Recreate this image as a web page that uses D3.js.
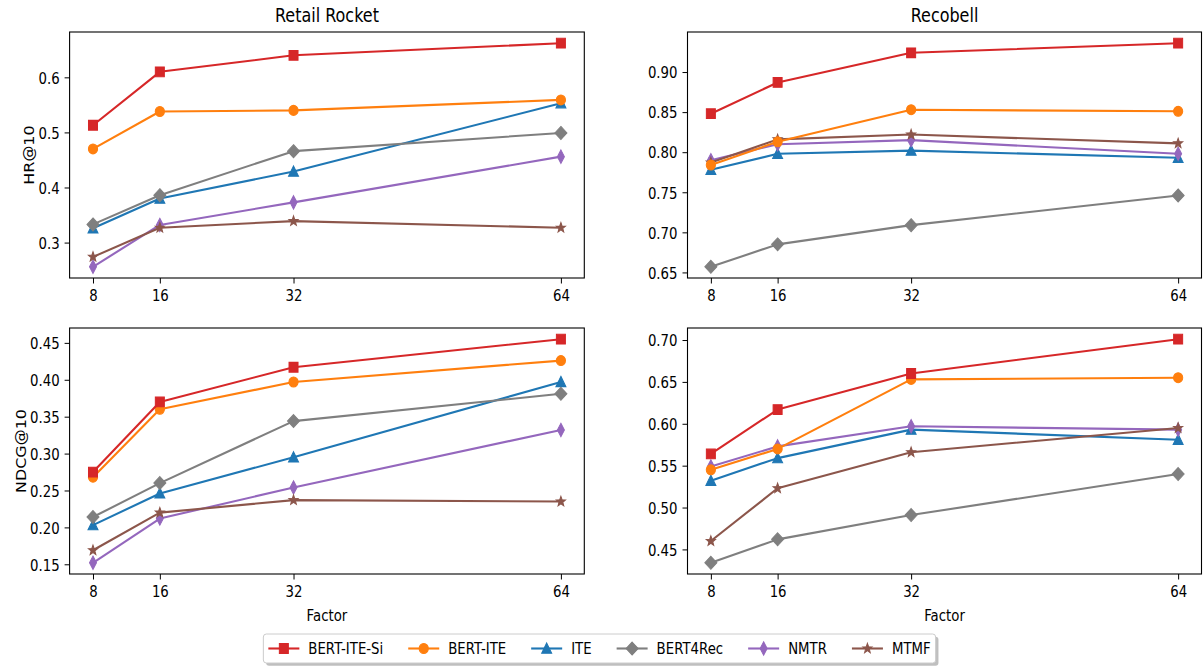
<!DOCTYPE html>
<html>
<head>
<meta charset="utf-8">
<script src="https://cdn.jsdelivr.net/npm/d3@7"></script>
<style>
  body { margin: 0; background: #fff; }
  svg { display: block; }
  text { font-family: "DejaVu Sans", sans-serif; fill: #000; }
</style>
</head>
<body>
<svg id="chart" width="1203" height="669"></svg>
<script>
// ---- data ----
const factors = [8, 16, 32, 64];
const methods = ["BERT-ITE-Si", "BERT-ITE", "ITE", "BERT4Rec", "NMTR", "MTMF"];

// one row per method, in the order of `methods`
const hrRetailRocket = [
  [0.513, 0.610, 0.640, 0.662],
  [0.470, 0.538, 0.540, 0.559],
  [0.326, 0.380, 0.429, 0.553],
  [0.333, 0.386, 0.466, 0.499],
  [0.256, 0.332, 0.373, 0.456],
  [0.274, 0.327, 0.339, 0.327]
];
const hrRecobell = [
  [0.848, 0.887, 0.924, 0.936],
  [0.784, 0.813, 0.853, 0.851],
  [0.778, 0.798, 0.802, 0.793],
  [0.657, 0.685, 0.709, 0.746],
  [0.790, 0.810, 0.815, 0.798],
  [0.787, 0.816, 0.822, 0.811]
];
const ndcgRetailRocket = [
  [0.275, 0.370, 0.417, 0.455],
  [0.268, 0.360, 0.397, 0.426],
  [0.203, 0.246, 0.295, 0.397],
  [0.214, 0.260, 0.344, 0.381],
  [0.152, 0.212, 0.254, 0.332],
  [0.169, 0.220, 0.237, 0.235]
];
const ndcgRecobell = [
  [0.564, 0.617, 0.660, 0.701],
  [0.545, 0.570, 0.653, 0.655],
  [0.532, 0.559, 0.593, 0.581],
  [0.434, 0.462, 0.491, 0.540],
  [0.549, 0.573, 0.597, 0.593],
  [0.460, 0.523, 0.566, 0.595]
];

// tick labels
const xTicks = [8, 16, 32, 64];
const yTicksHrRetail = [0.3, 0.4, 0.5, 0.6];
const yTicksHrRecobell = [0.65, 0.70, 0.75, 0.80, 0.85, 0.90];
const yTicksNdcgRetail = [0.15, 0.20, 0.25, 0.30, 0.35, 0.40, 0.45];
const yTicksNdcgRecobell = [0.45, 0.50, 0.55, 0.60, 0.65, 0.70];

// ---- styling ----
const colors = ["#d62728", "#ff7f0e", "#1f77b4", "#7f7f7f", "#9467bd", "#8c564b"];
const markerKinds = ["square", "circle", "triangle", "diamond", "thinDiamond", "star"];
const drawOrder = [2, 3, 4, 5, 1, 0];
const sy = 1.2;              // vertical stretch applied to all text
const msy = 1.08;            // vertical stretch applied to markers
const tickFont = 13.3;
const titleFont = 16;

const svg = d3.select("#chart");

function markerPath(kind) {
  switch (kind) {
    case "square": return "M-4.5,-4.5H4.5V4.5H-4.5Z";
    case "circle": return d3.symbol(d3.symbolCircle, Math.PI * 4.6 * 4.6)();
    case "triangle": return "M0,-5.2L5,4.3L-5,4.3Z";
    case "diamond": return "M0,-6L6,0L0,6L-6,0Z";
    case "thinDiamond": return "M0,-6.2L3.5,0L0,6.2L-3.5,0Z";
    case "star": {
      const pts = [];
      for (let i = 0; i < 10; i++) {
        const r = i % 2 === 0 ? 4.8 : 2.0;
        const a = -Math.PI / 2 + i * Math.PI / 5;
        pts.push([r * Math.cos(a), r * Math.sin(a)]);
      }
      return "M" + pts.map(p => p.join(",")).join("L") + "Z";
    }
  }
}

const panels = [
  { data: hrRetailRocket, yTicks: yTicksHrRetail, fmt: ".1f", title: "Retail Rocket", ylabel: "HR@10",
    x0: 69.6, x1: 584.3, y0: 32, y1: 278, xlabel: false },
  { data: hrRecobell, yTicks: yTicksHrRecobell, fmt: ".2f", title: "Recobell", ylabel: null,
    x0: 687.5, x1: 1201.5, y0: 32, y1: 278, xlabel: false },
  { data: ndcgRetailRocket, yTicks: yTicksNdcgRetail, fmt: ".2f", title: null, ylabel: "NDCG@10",
    x0: 69.6, x1: 584.3, y0: 328, y1: 574, xlabel: true },
  { data: ndcgRecobell, yTicks: yTicksNdcgRecobell, fmt: ".2f", title: null, ylabel: null,
    x0: 687.5, x1: 1201.5, y0: 328, y1: 574, xlabel: true }
];

panels.forEach(p => {
  const xMin = d3.min(factors), xMax = d3.max(factors);
  const xPad = (xMax - xMin) * 0.05;
  const x = d3.scaleLinear().domain([xMin - xPad, xMax + xPad]).range([p.x0, p.x1]);

  const all = p.data.flat();
  const vMin = d3.min(all), vMax = d3.max(all);
  const vPad = (vMax - vMin) * 0.05;
  const y = d3.scaleLinear().domain([vMin - vPad, vMax + vPad]).range([p.y1, p.y0]);

  const g = svg.append("g");

  // series
  const line = d3.line().x((d, i) => x(factors[i])).y(d => y(d));
  drawOrder.forEach(si => {
    const s = g.append("g");
    s.append("path")
      .attr("d", line(p.data[si]))
      .attr("fill", "none")
      .attr("stroke", colors[si])
      .attr("stroke-width", 2.1)
      .attr("stroke-linejoin", "round");
    s.selectAll("path.mk")
      .data(p.data[si])
      .join("path")
      .attr("class", "mk")
      .attr("d", markerPath(markerKinds[si]))
      .attr("transform", (d, i) => `translate(${x(factors[i])},${y(d)}) scale(1,${msy})`)
      .attr("fill", colors[si])
      .attr("stroke", colors[si])
      .attr("stroke-width", 1)
      .attr("stroke-linejoin", "miter");
  });

  // frame
  g.append("rect")
    .attr("x", p.x0).attr("y", p.y0)
    .attr("width", p.x1 - p.x0).attr("height", p.y1 - p.y0)
    .attr("fill", "none").attr("stroke", "#000").attr("stroke-width", 1.1);

  // axes
  const xAxis = g.append("g")
    .attr("transform", `translate(0,${p.y1})`)
    .call(d3.axisBottom(x).tickValues(xTicks).tickFormat(d3.format("d")).tickSize(5.5).tickSizeOuter(0));
  xAxis.select(".domain").remove();
  xAxis.selectAll("line").attr("stroke", "#000").attr("stroke-width", 1);
  xAxis.selectAll("text")
    .style("font-size", tickFont + "px")
    .attr("y", 11.5 / sy)
    .attr("dy", "0.71em")
    .attr("transform", `scale(1,${sy})`);

  const yAxis = g.append("g")
    .attr("transform", `translate(${p.x0},0)`)
    .call(d3.axisLeft(y).tickValues(p.yTicks).tickFormat(d3.format(p.fmt)).tickSize(5).tickPadding(5).tickSizeOuter(0));
  yAxis.select(".domain").remove();
  yAxis.selectAll("line").attr("stroke", "#000").attr("stroke-width", 1);
  yAxis.selectAll("text")
    .style("font-size", tickFont + "px")
    .attr("dy", "0.36em")
    .attr("transform", `scale(1,${sy})`);
  [xAxis, yAxis].forEach(a => a.attr("font-family", null).attr("font-size", null));

  const cx = (p.x0 + p.x1) / 2;
  if (p.title) {
    svg.append("text")
      .attr("transform", `translate(${cx},21.5) scale(1,${sy})`)
      .attr("text-anchor", "middle")
      .style("font-size", titleFont + "px")
      .text(p.title);
  }
  if (p.xlabel) {
    svg.append("text")
      .attr("transform", `translate(${cx},620.5) scale(1,${sy})`)
      .attr("text-anchor", "middle")
      .style("font-size", tickFont + "px")
      .text("Factor");
  }
  if (p.ylabel) {
    const minX = d3.min(yAxis.selectAll("text").nodes(), n => {
      const b = n.getBBox();
      return p.x0 - 10 - b.width;
    });
    svg.append("text")
      .attr("transform", `translate(${minX - 4},${(p.y0 + p.y1) / 2}) scale(1,${sy}) rotate(-90)`)
      .attr("text-anchor", "middle")
      .style("font-size", tickFont + "px")
      .text(p.ylabel);
  }
});

// ---- legend ----
const legend = svg.append("g");
const handleLen = 31, textGap = 9, colGap = 25;
const legendCx = 599.5, legendCy = 648.5, boxTop = 634, boxH = 29;
const items = legend.selectAll("g.item").data(methods).join("g").attr("class", "item");
items.append("text")
  .attr("class", "lbl")
  .style("font-size", tickFont + "px")
  .attr("dy", "0.36em")
  .attr("transform", `scale(1,${sy})`)
  .text(d => d);
const widths = items.select("text").nodes().map(n => n.getComputedTextLength());
const contentW = d3.sum(widths) + methods.length * (handleLen + textGap) + (methods.length - 1) * colGap;
let cursor = legendCx - contentW / 2;
const starts = widths.map(w => { const s = cursor; cursor += handleLen + textGap + w + colGap; return s; });
const pad = 5;
legend.insert("rect", ":first-child")
  .attr("x", starts[0] - pad + 2.8).attr("y", boxTop + 2.8)
  .attr("width", contentW + 2 * pad).attr("height", boxH).attr("rx", 3)
  .attr("fill", "#7f7f7f").attr("opacity", 0.5);
legend.insert("rect", "g.item")
  .attr("x", starts[0] - pad).attr("y", boxTop)
  .attr("width", contentW + 2 * pad).attr("height", boxH).attr("rx", 3)
  .attr("fill", "#fff").attr("stroke", "#cccccc").attr("stroke-width", 1);
items.attr("transform", (d, i) => `translate(${starts[i]},${legendCy})`);
items.select("text").attr("x", handleLen + textGap);
items.append("line")
  .attr("x1", 0).attr("x2", handleLen).attr("y1", 0).attr("y2", 0)
  .attr("stroke", (d, i) => colors[i]).attr("stroke-width", 2.1);
items.append("path")
  .attr("d", (d, i) => markerPath(markerKinds[i]))
  .attr("transform", `translate(${handleLen / 2},0) scale(1,${msy})`)
  .attr("fill", (d, i) => colors[i])
  .attr("stroke", (d, i) => colors[i])
  .attr("stroke-width", 1);
</script>
</body>
</html>
